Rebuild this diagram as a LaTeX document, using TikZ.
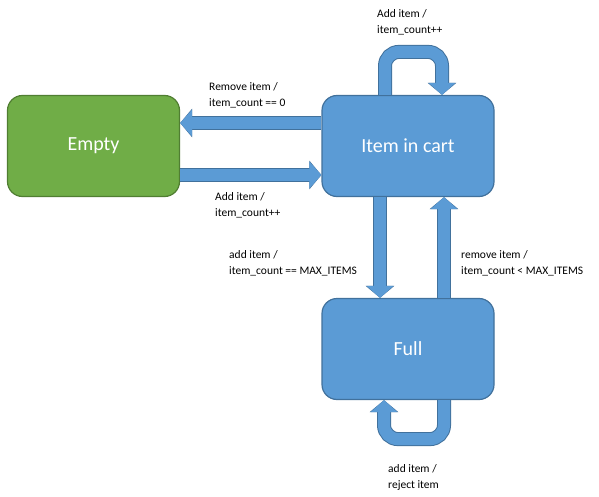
\documentclass[tikz,border=0pt]{standalone}
\usepackage{fontspec}
\setmainfont{Carlito}
\usetikzlibrary{arrows.meta,calc}
\definecolor{bfill}{HTML}{5B9BD5}
\definecolor{bline}{HTML}{41719C}
\definecolor{gfill}{HTML}{70AD47}
\definecolor{gline}{HTML}{507E32}
\begin{document}
\begin{tikzpicture}[x=1pt,y=-1pt,
  state/.style={rectangle,rounded corners=15pt,minimum width=172pt,minimum height=101pt,
    fill=bfill,draw=bline,line width=1.2pt,text=white,font=\fontsize{20}{24}\selectfont},
  blk/.style={line width=12pt,draw=bfill,rounded corners=14pt,
    -{Triangle[length=12pt,width=26pt,fill=bfill]},
    preaction={draw=bline,line width=14pt,-{Triangle[length=12pt,width=28pt]}}},
  lbl/.style={align=left,anchor=north west,inner sep=0pt,font=\fontsize{11.5}{16}\selectfont}]
\useasboundingbox (0,0) rectangle (599,497);
\fill[white] (0,0) rectangle (599,497);
\node[state,fill=gfill,draw=gline] (empty) at (93.5,146) {Empty};
\node[state] (cart) at (408,146) {Item in cart};
\node[state] (full) at (408,349) {Full};
% arrows
\draw[blk] ($(cart.west)+(0,-23)$) -- ($(empty.east)+(0,-23)$);
\draw[blk] ($(empty.east)+(0,29)$) -- ($(cart.west)+(0,29)$);
\draw[blk] ($(cart.south)+(-28,0)$) -- ($(full.north)+(-28,0)$);
\draw[blk] ($(full.north)+(36,0)$) -- ($(cart.south)+(36,0)$);
\draw[blk] ($(cart.north)+(-23,0)$) -- ++(0,-43) -- ++(57,0) -- ($(cart.north)+(34,0)$);
\draw[blk] ($(full.south)+(36,0)$) -- ++(0,39) -- ++(-60,0) -- ($(full.south)+(-24,0)$);
% labels
\node[lbl] (l1) at (209,82) {Remove item /\\item\_count == 0};
\node[lbl] (l2) at (215,192) {Add item /\\item\_count++};
\node[lbl] (l3) at (229,250) {add item /\\item\_count == MAX\_ITEMS};
\node[lbl] (l4) at (461,250) {remove item /\\item\_count {\textless} MAX\_ITEMS};
\node[lbl] (l5) at (377,9) {Add item /\\item\_count++};
\node[lbl] (l6) at (388,464) {add item /\\reject item};
\end{tikzpicture}
\end{document}
